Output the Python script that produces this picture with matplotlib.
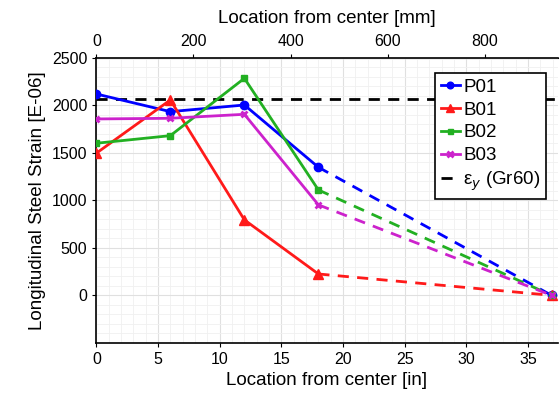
import matplotlib
matplotlib.use('Agg')
from matplotlib import pyplot as plt
from matplotlib.ticker import MultipleLocator

plt.rcParams['font.family'] = ['Liberation Sans', 'DejaVu Sans']
plt.rcParams['mathtext.fontset'] = 'dejavusans'

# gauge locations [in], last one is the assumed zero-strain point
loc_in = [0, 6, 12, 18, 36.9]
p01 = [2121, 1935, 2005, 1349, 0]
b01 = [1497, 2058, 795, 225, 0]
b02 = [1602, 1682, 2286, 1110, 0]
b03 = [1858, 1865, 1907, 953, 0]
eps_y = 2069  # 60 ksi / 29000 ksi

series = [
    ('P01', p01, '#0000ff', 'o', 6),
    ('B01', b01, '#ff1a1a', '^', 7),
    ('B02', b02, '#22b022', 's', 4.5),
    ('B03', b03, '#cc22cc', 'x', 5),
]

fig = plt.figure(figsize=(5.6, 4.0), dpi=100)
ax = fig.add_axes([0.172, 0.143, 0.824, 0.712])

for name, vals, col, mk, ms in series:
    ax.plot(loc_in[:4], vals[:4], color=col, lw=2, marker=mk, ms=ms,
            mew=2 if mk == 'x' else 1, label=name, zorder=3)
    ax.plot(loc_in[3:], vals[3:], color=col, lw=2, ls=(0, (4, 3)), zorder=3)
    ax.plot(loc_in[4:], vals[4:], color=col, marker=mk, ms=ms,
            mew=2 if mk == 'x' else 1, zorder=4)

ax.axhline(eps_y, color='black', lw=2, ls=(0, (4, 3)),
           label='ε$_y$ (Gr60)', zorder=2)

ax.set_xlim(0, 37.4)
ax.set_ylim(-500, 2500)
ax.xaxis.set_major_locator(MultipleLocator(5))
ax.xaxis.set_minor_locator(MultipleLocator(1))
ax.yaxis.set_minor_locator(MultipleLocator(100))
ax.set_yticks([0, 500, 1000, 1500, 2000, 2500])
ax.grid(which='major', color='#e0e0e0', lw=0.8)
ax.grid(which='minor', color='#f0f0f0', lw=0.6)
ax.set_axisbelow(True)
ax.tick_params(labelsize=11.5, length=3)
ax.tick_params(which='minor', length=0)
ax.spines['right'].set_visible(False)
for s in ['left', 'bottom', 'top']:
    ax.spines[s].set_linewidth(1.2)

ax.set_xlabel('Location from center [in]', fontsize=13.5)
ax.set_ylabel('Longitudinal Steel Strain [E-06]', fontsize=13.5)

top = ax.secondary_xaxis('top', functions=(lambda x: x * 25.4, lambda x: x / 25.4))
top.set_xticks([0, 200, 400, 600, 800])
top.tick_params(labelsize=11.5, length=3)
top.set_xlabel('Location from center [mm]', fontsize=13.5, labelpad=8)

leg = ax.legend(loc='upper right', fontsize=13.5, handlelength=1.0,
                handletextpad=0.2, borderpad=0.3, labelspacing=0.3,
                markerscale=0.8, fancybox=False, framealpha=1,
                edgecolor='black', bbox_to_anchor=(0.995, 0.98))
leg.get_frame().set_linewidth(1.2)

plt.savefig('out.png', dpi=100)
plt.close()
